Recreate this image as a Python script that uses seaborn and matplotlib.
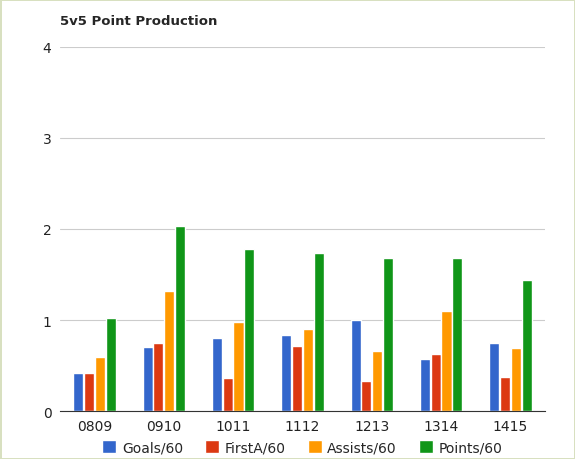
import matplotlib
matplotlib.use("Agg")
import matplotlib.pyplot as plt
import pandas as pd
import seaborn as sns

seasons = ["0809", "0910", "1011", "1112", "1213", "1314", "1415"]
goals = [0.42, 0.70, 0.80, 0.84, 1.00, 0.57, 0.75]
first_a = [0.42, 0.75, 0.36, 0.71, 0.33, 0.63, 0.37]
assists = [0.60, 1.32, 0.98, 0.90, 0.66, 1.10, 0.69]
points = [1.02, 2.03, 1.78, 1.74, 1.68, 1.68, 1.44]
series = ["Goals/60", "FirstA/60", "Assists/60", "Points/60"]
colors = ["#3366cc", "#dc3912", "#ff9900", "#109618"]

df = pd.DataFrame({"season": seasons, series[0]: goals, series[1]: first_a,
                   series[2]: assists, series[3]: points})
long = df.melt(id_vars="season", var_name="metric", value_name="value")

sns.set_style("white")
fig = plt.figure(figsize=(5.75, 4.6), dpi=100, facecolor="white",
                 edgecolor="#d8e0c0", linewidth=2)
ax = fig.add_axes([0.104, 0.104, 0.844, 0.792])
sns.barplot(data=long, x="season", y="value", hue="metric", palette=colors,
            width=0.62, gap=0.06, ax=ax, saturation=1)
ax.set_ylim(0, 4)
ax.set_yticks([0, 1, 2, 3, 4])
ax.grid(axis="y", color="#cccccc", linewidth=0.8)
ax.set_axisbelow(True)
for s in ["top", "right", "left"]:
    ax.spines[s].set_visible(False)
ax.spines["bottom"].set_color("#333333")
ax.tick_params(axis="both", length=0, labelsize=10, colors="#222222", pad=6)
ax.set_xlabel("")
ax.set_ylabel("")
ax.legend(loc="upper center", bbox_to_anchor=(0.5, -0.045), ncol=4,
          frameon=False, fontsize=10, handlelength=1, handleheight=1,
          columnspacing=1.6, handletextpad=0.4)
fig.text(0.104, 0.945, "5v5 Point Production", fontsize=9.5, fontweight="bold")
fig.savefig("out.png", dpi=100, edgecolor=fig.get_edgecolor())
